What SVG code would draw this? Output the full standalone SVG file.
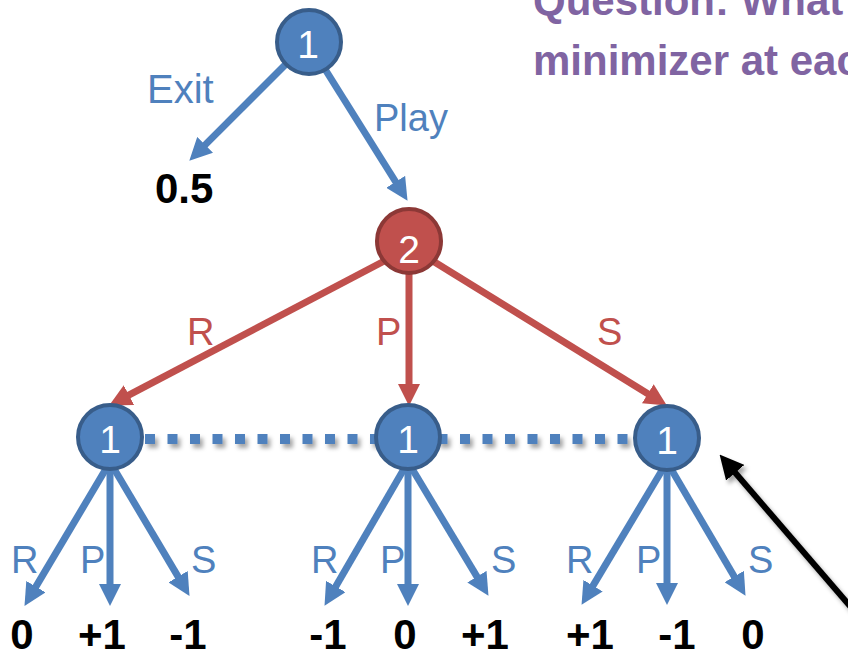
<svg xmlns="http://www.w3.org/2000/svg" width="848" height="651" viewBox="0 0 848 651">
  <defs>
    <style>
      .blue-node { fill: #4F81BD; stroke: #385D8A; stroke-width: 4; }
      .red-node { fill: #C0504D; stroke: #8C3836; stroke-width: 4; }
      .num { font-family: "Liberation Sans", Arial, sans-serif; font-size: 39px; fill: #FFFFFF; text-anchor: middle; }
      .lbl { font-family: "Liberation Sans", Arial, sans-serif; font-size: 38px; }
      .lbl-blue { fill: #4F81BD; }
      .lbl-red { fill: #C0504D; }
      .val { font-family: "Liberation Sans", Arial, sans-serif; font-size: 42px; font-weight: bold; fill: #000000; text-anchor: middle; }
      .title { font-family: "Liberation Sans", Arial, sans-serif; font-size: 42px; font-weight: bold; fill: #8064A2; }
      .arr-blue { stroke: #4F81BD; stroke-width: 7; fill: none; marker-end: url(#headBlue); }
      .arr-red { stroke: #C0504D; stroke-width: 7; fill: none; marker-end: url(#headRed); }
      .arr-black { stroke: #000000; stroke-width: 6; fill: none; marker-end: url(#headBlack); }
      .info-set { stroke: #4F81BD; stroke-width: 10; stroke-dasharray: 10 12.5; fill: none; }
    </style>
    <marker id="headBlue" viewBox="0 0 10 10" refX="3" refY="5" markerWidth="3.2" markerHeight="3.2" orient="auto">
      <path d="M0,0 L10,5 L0,10 z" fill="#4F81BD"/>
    </marker>
    <marker id="headRed" viewBox="0 0 10 10" refX="3" refY="5" markerWidth="3.2" markerHeight="3.2" orient="auto">
      <path d="M0,0 L10,5 L0,10 z" fill="#C0504D"/>
    </marker>
    <marker id="headBlack" viewBox="0 0 10 10" refX="3" refY="5" markerWidth="4" markerHeight="4" orient="auto">
      <path d="M0,0 L10,5 L0,10 z" fill="#000000"/>
    </marker>
    <filter id="shadow" filterUnits="userSpaceOnUse" x="0" y="0" width="848" height="651">
      <feDropShadow dx="3" dy="4" stdDeviation="2" flood-color="#000000" flood-opacity="0.35"/>
    </filter>
  </defs>

  <rect width="848" height="651" fill="#FFFFFF"/>

  <!-- Question text (runs past the right edge) -->
  <text class="title" x="533" y="15">Question: What</text>
  <text class="title" x="533" y="75">minimizer at eac</text>

  <!-- Connectors -->
  <g id="connectors">
    <!-- player 1 root -->
    <line class="arr-blue" x1="308" y1="42" x2="200.4" y2="149.6"/>
    <line class="arr-blue" x1="308" y1="42" x2="399.2" y2="187.5"/>
    <!-- player 2 moves -->
    <line class="arr-red" x1="390" y1="258" x2="123" y2="398.2"/>
    <line class="arr-red" x1="409" y1="260" x2="409" y2="390.3"/>
    <line class="arr-red" x1="428" y1="258" x2="653.5" y2="397.3"/>
    <!-- information set -->
    <line class="info-set" x1="145" y1="439" x2="636" y2="439" filter="url(#shadow)"/>
    <!-- left player 1 node -->
    <line class="arr-blue" x1="110" y1="462" x2="32.5" y2="592.4"/>
    <line class="arr-blue" x1="110" y1="462" x2="110" y2="590.3"/>
    <line class="arr-blue" x1="110" y1="462" x2="181.5" y2="582.4"/>
    <!-- middle player 1 node -->
    <line class="arr-blue" x1="408" y1="462" x2="332.4" y2="592.3"/>
    <line class="arr-blue" x1="408" y1="462" x2="408" y2="590.3"/>
    <line class="arr-blue" x1="408" y1="462" x2="480.4" y2="582.4"/>
    <!-- right player 1 node -->
    <line class="arr-blue" x1="667" y1="462" x2="589.6" y2="591.4"/>
    <line class="arr-blue" x1="667" y1="462" x2="667" y2="589.3"/>
    <line class="arr-blue" x1="667" y1="462" x2="737.6" y2="582.3"/>
    <!-- pointer -->
    <line class="arr-black" x1="875" y1="635" x2="730.5" y2="467.3" filter="url(#shadow)"/>
  </g>

  <!-- Nodes -->
  <g id="root">
    <circle class="blue-node" cx="309" cy="42" r="32"/>
    <text class="num" x="308" y="58">1</text>
  </g>
  <g id="p2">
    <circle class="red-node" cx="409" cy="241" r="32"/>
    <text class="num" x="409" y="263">2</text>
  </g>
  <g id="p1-left">
    <circle class="blue-node" cx="110" cy="437" r="32"/>
    <text class="num" x="110" y="453">1</text>
  </g>
  <g id="p1-mid">
    <circle class="blue-node" cx="408" cy="437" r="32"/>
    <text class="num" x="408" y="453">1</text>
  </g>
  <g id="p1-right">
    <circle class="blue-node" cx="667" cy="438" r="32"/>
    <text class="num" x="667" y="454">1</text>
  </g>

  <!-- Edge labels -->
  <g id="labels">
    <text class="lbl lbl-blue" x="147" y="103" style="font-size:40px">Exit</text>
    <text class="lbl lbl-blue" x="374" y="131">Play</text>
    <text class="lbl lbl-red" x="187" y="345">R</text>
    <text class="lbl lbl-red" x="376" y="345">P</text>
    <text class="lbl lbl-red" x="597" y="345">S</text>

    <text class="lbl lbl-blue" x="11" y="573">R</text>
    <text class="lbl lbl-blue" x="80" y="573">P</text>
    <text class="lbl lbl-blue" x="191" y="573">S</text>
    <text class="lbl lbl-blue" x="311" y="573">R</text>
    <text class="lbl lbl-blue" x="380" y="573">P</text>
    <text class="lbl lbl-blue" x="491" y="573">S</text>
    <text class="lbl lbl-blue" x="566" y="573">R</text>
    <text class="lbl lbl-blue" x="636" y="573">P</text>
    <text class="lbl lbl-blue" x="748" y="573">S</text>
  </g>

  <!-- Payoffs -->
  <g id="payoffs">
    <text class="val" x="155" y="203" style="text-anchor:start">0.5</text>
    <text class="val" x="22" y="649">0</text>
    <text class="val" x="102" y="649">+1</text>
    <text class="val" x="188" y="649">-1</text>
    <text class="val" x="328" y="649">-1</text>
    <text class="val" x="405" y="649">0</text>
    <text class="val" x="485" y="649">+1</text>
    <text class="val" x="590" y="649">+1</text>
    <text class="val" x="677" y="649">-1</text>
    <text class="val" x="753" y="649">0</text>
  </g>
</svg>
